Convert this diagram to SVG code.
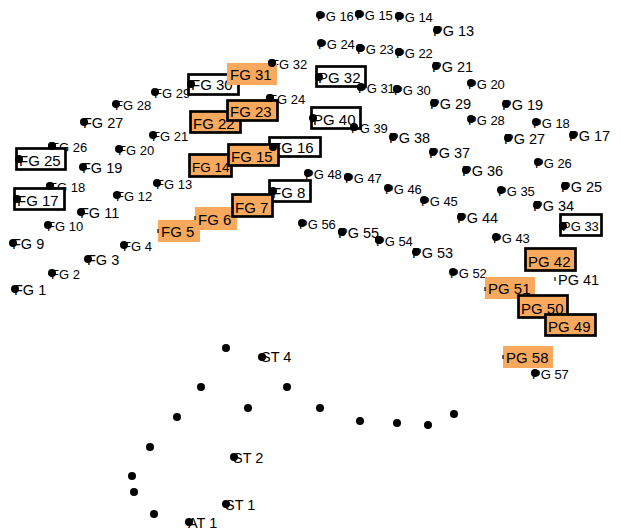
<svg xmlns="http://www.w3.org/2000/svg" width="621" height="532" viewBox="0 0 621 532">
<style>
text{font-family:"Liberation Sans",Arial,sans-serif;fill:#000}
.s{font-size:13px}
.l{font-size:14.5px}
.b{font-size:15px}
.d{fill:#000}
.o{fill:#F9A95E}
.ob{fill:#F9A95E;stroke:#000;stroke-width:2.7}
.wb{fill:#fff;stroke:#000;stroke-width:2.7}
.t{stroke:#000;stroke-width:1.2}
</style>
<rect width="621" height="532" fill="#fff"/>
<g id="connectors"/>
<g id="labels">
<g id="fg1"><text class="l" x="14" y="295">FG 1</text><circle class="d" cx="15" cy="289" r="4"/></g>
<g id="fg2"><text class="s" x="51" y="278.5">FG 2</text><circle class="d" cx="52" cy="273" r="4"/></g>
<g id="fg3"><text class="l" x="87" y="265">FG 3</text><circle class="d" cx="88" cy="259" r="4"/></g>
<g id="fg4"><text class="s" x="123" y="250.5">FG 4</text><circle class="d" cx="124" cy="245" r="4"/></g>
<g id="fg9"><text class="l" x="12" y="249">FG 9</text><circle class="d" cx="13" cy="243" r="4"/></g>
<g id="fg10"><text class="s" x="47" y="230.5">FG 10</text><circle class="d" cx="48" cy="225" r="4"/></g>
<g id="fg11"><text class="l" x="80" y="218">FG 11</text><circle class="d" cx="81" cy="212" r="4"/></g>
<g id="fg12"><text class="s" x="116" y="200.5">FG 12</text><circle class="d" cx="117" cy="195" r="4"/></g>
<g id="fg13"><text class="s" x="156" y="188.5">FG 13</text><circle class="d" cx="157" cy="183" r="4"/></g>
<g id="fg18"><text class="s" x="49" y="191.5">FG 18</text><circle class="d" cx="50" cy="186" r="4"/></g>
<g id="fg19"><text class="l" x="82" y="173">FG 19</text><circle class="d" cx="83" cy="167" r="4"/></g>
<g id="fg20"><text class="s" x="118" y="154.5">FG 20</text><circle class="d" cx="119" cy="149" r="4"/></g>
<g id="fg21"><text class="s" x="152" y="140.5">FG 21</text><circle class="d" cx="153" cy="135" r="4"/></g>
<g id="fg24"><text class="s" x="269" y="103.5">FG 24</text><circle class="d" cx="270" cy="98" r="4"/></g>
<g id="fg26"><text class="s" x="51" y="151.5">FG 26</text><circle class="d" cx="52" cy="146" r="4"/></g>
<g id="fg27"><text class="l" x="83" y="128">FG 27</text><circle class="d" cx="84" cy="122" r="4"/></g>
<g id="fg28"><text class="s" x="115" y="110">FG 28</text><circle class="d" cx="116" cy="104" r="4"/></g>
<g id="fg29"><text class="s" x="154" y="97.5">FG 29</text><circle class="d" cx="155" cy="92" r="4"/></g>
<g id="fg32"><text class="s" x="271" y="68.5">FG 32</text><circle class="d" cx="272" cy="63" r="4"/></g>

<g id="pg13"><text class="l" x="433" y="36">PG 13</text><circle class="d" cx="437" cy="30" r="4"/></g>
<g id="pg14"><text class="s" x="396" y="21.5">PG 14</text><circle class="d" cx="399" cy="16" r="4"/></g>
<g id="pg15"><text class="s" x="356" y="19.5">PG 15</text><circle class="d" cx="359" cy="14" r="4"/></g>
<g id="pg16"><text class="s" x="317" y="20.5">PG 16</text><circle class="d" cx="320" cy="15" r="4"/></g>
<g id="pg16dot"><circle class="d" cx="359" cy="14" r="4"/><circle class="d" cx="399" cy="16" r="4"/></g>
<g id="pg17"><text class="l" x="569" y="141">PG 17</text><circle class="d" cx="573" cy="135" r="4"/></g>
<g id="pg18"><text class="s" x="533" y="127.5">PG 18</text><circle class="d" cx="536" cy="122" r="4"/></g>
<g id="pg19"><text class="l" x="502" y="110">PG 19</text><circle class="d" cx="506" cy="104" r="4"/></g>
<g id="pg20"><text class="s" x="468" y="88.5">PG 20</text><circle class="d" cx="471" cy="83" r="4"/></g>
<g id="pg21"><text class="l" x="432" y="72">PG 21</text><circle class="d" cx="436" cy="66" r="4"/></g>
<g id="pg22"><text class="s" x="396" y="57.5">PG 22</text><circle class="d" cx="399" cy="52" r="4"/></g>
<g id="pg23"><text class="s" x="357" y="53.5">PG 23</text><circle class="d" cx="360" cy="48" r="4"/></g>
<g id="pg24"><text class="s" x="318" y="48.5">PG 24</text><circle class="d" cx="321" cy="43" r="4"/></g>
<g id="pg24dot"><circle class="d" cx="360" cy="48" r="4"/><circle class="d" cx="399" cy="52" r="4"/></g>
<g id="pg25"><text class="l" x="561" y="192">PG 25</text><circle class="d" cx="565" cy="186" r="4"/></g>
<g id="pg26"><text class="s" x="535" y="167.5">PG 26</text><circle class="d" cx="538" cy="162" r="4"/></g>
<g id="pg27"><text class="l" x="504" y="144">PG 27</text><circle class="d" cx="508" cy="138" r="4"/></g>
<g id="pg28"><text class="s" x="468" y="124.5">PG 28</text><circle class="d" cx="471" cy="119" r="4"/></g>
<g id="pg29"><text class="l" x="430" y="109">PG 29</text><circle class="d" cx="434" cy="103" r="4"/></g>
<g id="pg30"><text class="s" x="394" y="94.5">PG 30</text><circle class="d" cx="397" cy="89" r="4"/></g>
<g id="pg31"><text class="s" x="358" y="92.5">PG 31</text><circle class="d" cx="361" cy="87" r="4"/><circle class="d" cx="397" cy="89" r="4"/></g>
<g id="pg34"><text class="l" x="533" y="211">PG 34</text><circle class="d" cx="537" cy="205" r="4"/></g>
<g id="pg35"><text class="s" x="498" y="195.5">PG 35</text><circle class="d" cx="501" cy="190" r="4"/></g>
<g id="pg36"><text class="l" x="462" y="176">PG 36</text><circle class="d" cx="466" cy="170" r="4"/></g>
<g id="pg37"><text class="l" x="429" y="158">PG 37</text><circle class="d" cx="433" cy="152" r="4"/></g>
<g id="pg38"><text class="l" x="389" y="143">PG 38</text><circle class="d" cx="393" cy="137" r="4"/></g>
<g id="pg39"><text class="s" x="351" y="132.5">PG 39</text><circle class="d" cx="354" cy="127" r="4"/></g>
<g id="pg43"><text class="s" x="493" y="242.5">PG 43</text><circle class="d" cx="496" cy="237" r="4"/></g>
<g id="pg44"><text class="l" x="457" y="223">PG 44</text><circle class="d" cx="461" cy="217" r="4"/></g>
<g id="pg45"><text class="s" x="421" y="205.5">PG 45</text><circle class="d" cx="424" cy="200" r="4"/></g>
<g id="pg46"><text class="s" x="385" y="193.5">PG 46</text><circle class="d" cx="388" cy="188" r="4"/></g>
<g id="pg47"><text class="s" x="345" y="182.5">PG 47</text><circle class="d" cx="348" cy="177" r="4"/></g>
<g id="pg48"><text class="s" x="305" y="178.5">PG 48</text><circle class="d" cx="308" cy="173" r="4"/><circle class="d" cx="348" cy="177" r="4"/></g>
<g id="pg52"><text class="s" x="450" y="277.5">PG 52</text><circle class="d" cx="453" cy="272" r="4"/></g>
<g id="pg53"><text class="l" x="412" y="258">PG 53</text><circle class="d" cx="416" cy="252" r="4"/></g>
<g id="pg54"><text class="s" x="376" y="245.5">PG 54</text><circle class="d" cx="379" cy="240" r="4"/></g>
<g id="pg55"><text class="l" x="338" y="238">PG 55</text><circle class="d" cx="342" cy="232" r="4"/><circle class="d" cx="379" cy="240" r="4"/></g>
<g id="pg56"><text class="s" x="299" y="228.5">PG 56</text><circle class="d" cx="302" cy="223" r="4"/><circle class="d" cx="342" cy="232" r="4"/></g>
<g id="pg57"><text class="s" x="532" y="378.5">PG 57</text><circle class="d" cx="535" cy="373" r="4"/></g>
<g id="pg41"><line class="t" x1="555" y1="277" x2="555" y2="281"/><text class="l" x="558" y="285">PG 41</text></g>
</g>

<g id="boxes">
<g id="fg30"><rect class="wb" x="188.5" y="74.5" width="50" height="20"/><text class="b" x="191" y="90">FG 30</text><circle class="d" cx="191" cy="84" r="4"/></g>
<g id="fg31"><rect class="o" x="227" y="63" width="50" height="22"/><text class="b" x="230" y="80">FG 31</text><circle class="d" cx="272" cy="63" r="4"/></g>
<g id="fg22"><rect class="ob" x="190.5" y="111.5" width="50" height="21"/><text class="b" x="193" y="129">FG 22</text></g>
<g id="fg23"><rect class="ob" x="227.5" y="100.5" width="50" height="20"/><text class="b" x="230" y="117">FG 23</text><circle class="d" cx="270" cy="98" r="4"/></g>
<g id="fg16"><rect class="wb" x="269.5" y="137.5" width="51" height="19"/><text class="b" x="272" y="153">FG 16</text></g>
<g id="fg14"><rect class="ob" x="189.5" y="154.5" width="42" height="22"/><text class="b" x="192" y="172" style="font-size:13.5px">FG 14</text></g>
<g id="fg15"><rect class="ob" x="228.5" y="144.5" width="50" height="21"/><text class="b" x="231" y="162">FG 15</text><circle class="d" cx="273" cy="147" r="4"/></g>
<g id="fg8"><rect class="wb" x="269.5" y="180.5" width="41" height="21"/><text class="b" x="272" y="198">FG 8</text></g>
<g id="fg5"><rect class="o" x="158" y="220" width="42" height="22"/><line class="t" x1="158" y1="229" x2="158" y2="233"/><text class="b" x="161" y="237">FG 5</text></g>
<g id="fg6"><rect class="o" x="195" y="207" width="42" height="23"/><line class="t" x1="195" y1="216" x2="195" y2="220"/><text class="b" x="198" y="225">FG 6</text></g>
<g id="fg7"><rect class="ob" x="232.5" y="194.5" width="40" height="22"/><text class="b" x="235" y="213">FG 7</text><circle class="d" cx="273" cy="191" r="4"/></g>
<g id="fg25"><rect class="wb" x="16.5" y="148.5" width="49" height="21"/><text class="b" x="19" y="166">FG 25</text><circle class="d" cx="19" cy="159" r="4"/><circle class="d" cx="52" cy="146" r="4"/></g>
<g id="fg17"><rect class="wb" x="14.5" y="188.5" width="50" height="21"/><text class="b" x="17" y="206">FG 17</text><circle class="d" cx="17" cy="199" r="4"/><circle class="d" cx="50" cy="186" r="4"/></g>
<g id="pg32"><rect class="wb" x="316.5" y="66.5" width="49" height="20"/><text class="b" x="318" y="83">PG 32</text><circle class="d" cx="319" cy="77" r="4"/><circle class="d" cx="361" cy="87" r="4"/></g>
<g id="pg40"><rect class="wb" x="311.5" y="107.5" width="49" height="21"/><text class="b" x="313" y="125">PG 40</text><circle class="d" cx="313" cy="118" r="4"/><circle class="d" cx="354" cy="127" r="4"/></g>
<g id="pg33"><rect class="wb" x="560.5" y="214.5" width="41" height="21"/><text class="s" x="562" y="231">PG 33</text><circle class="d" cx="563" cy="226" r="4"/></g>
<g id="pg42"><rect class="ob" x="525.5" y="248.5" width="50" height="22"/><text class="b" x="528" y="267">PG 42</text></g>
<g id="pg51"><rect class="o" x="485" y="277" width="50" height="22"/><line class="t" x1="485" y1="287" x2="485" y2="291"/><text class="b" x="488" y="294">PG 51</text></g>
<g id="pg50"><rect class="ob" x="518.5" y="295.5" width="49" height="22"/><text class="b" x="521" y="314">PG 50</text></g>
<g id="pg49"><rect class="ob" x="545.5" y="314.5" width="50" height="21"/><text class="b" x="548" y="332">PG 49</text></g>
<g id="pg58"><rect class="o" x="503" y="346" width="50" height="22"/><line class="t" x1="503" y1="355" x2="503" y2="359"/><text class="b" x="506" y="363">PG 58</text></g>
</g>

<g id="stations">
<g id="st4"><text class="l" x="261" y="362">ST 4</text><circle class="d" cx="262" cy="357" r="4"/></g>
<g id="st2"><text class="l" x="233" y="463">ST 2</text><circle class="d" cx="234" cy="457" r="4"/></g>
<g id="st1"><text class="l" x="225" y="510">ST 1</text><circle class="d" cx="226" cy="504" r="4"/></g>
<g id="at1"><text class="l" x="188" y="528">AT 1</text><circle class="d" cx="189" cy="522" r="4"/></g>
<g id="p1"><circle class="d" cx="226" cy="348" r="4"/></g>
<g id="p2"><circle class="d" cx="201" cy="387" r="4"/></g>
<g id="p3"><circle class="d" cx="287" cy="387" r="4"/></g>
<g id="p4"><circle class="d" cx="177" cy="417" r="4"/></g>
<g id="p5"><circle class="d" cx="248" cy="408" r="4"/></g>
<g id="p6"><circle class="d" cx="320" cy="408" r="4"/></g>
<g id="p7"><circle class="d" cx="360" cy="421" r="4"/></g>
<g id="p8"><circle class="d" cx="397" cy="423" r="4"/></g>
<g id="p9"><circle class="d" cx="428" cy="425" r="4"/></g>
<g id="p10"><circle class="d" cx="454" cy="414" r="4"/></g>
<g id="p11"><circle class="d" cx="150" cy="447" r="4"/></g>
<g id="p12"><circle class="d" cx="132" cy="476" r="4"/></g>
<g id="p13"><circle class="d" cx="134" cy="492" r="4"/></g>
<g id="p14"><circle class="d" cx="154" cy="514" r="4"/></g>
</g>
</svg>
